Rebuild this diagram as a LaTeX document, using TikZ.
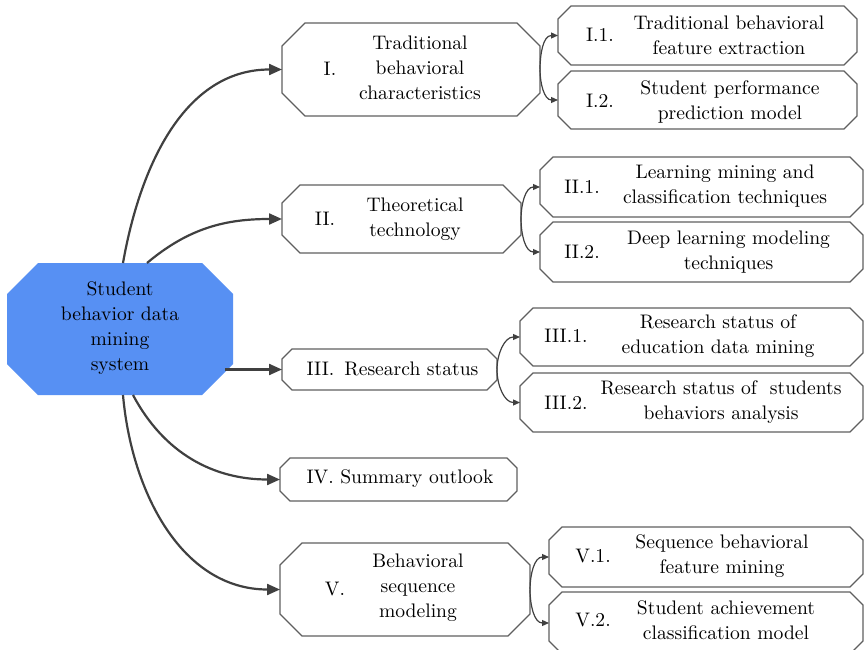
\documentclass[tikz,border=0pt]{standalone}
\usepackage{fontspec}
\setmainfont{lmroman10-regular.otf}
\usetikzlibrary{arrows.meta}
\definecolor{mainblue}{RGB}{87,144,243}
\definecolor{boxline}{RGB}{95,95,95}
\definecolor{conn}{RGB}{64,64,64}
\begin{document}
\begin{tikzpicture}[x=1pt,y=-1pt,
  box/.style={rectangle, draw=none, inner sep=0pt, outer sep=0pt},
  octline/.style={draw=boxline, line width=1.3pt, line join=miter},
  txt/.style={align=center, inner sep=0pt, font=\fontsize{19.6}{25}\selectfont},
  mainarr/.style={draw=conn, line width=2.2pt, -{Triangle[length=13pt,width=11pt]}},
  forkarr/.style={draw=conn, line width=1.2pt, -{Triangle[length=7pt,width=6pt]}}]
\useasboundingbox (0,0) rectangle (864,650);

% box frames (named rectangles; octagonal outlines drawn below)
\node[box, minimum width=226pt, minimum height=132pt] (M) at (120,329) {};
\node[box, minimum width=258pt, minimum height=93pt] (I) at (411,69.5) {};
\node[box, minimum width=239pt, minimum height=68pt] (II) at (401.5,219) {};
\node[box, minimum width=215pt, minimum height=41pt] (III) at (389.5,369.5) {};
\node[box, minimum width=237pt, minimum height=43pt] (IV) at (398.5,479.5) {};
\node[box, minimum width=250pt, minimum height=93pt] (V) at (405,589.5) {};
\node[box, minimum width=299pt, minimum height=59pt] (I1) at (707.5,35.5) {};
\node[box, minimum width=299pt, minimum height=58pt] (I2) at (707.5,100) {};
\node[box, minimum width=323pt, minimum height=60pt] (II1) at (701.5,187) {};
\node[box, minimum width=323pt, minimum height=60pt] (II2) at (701.5,252) {};
\node[box, minimum width=343pt, minimum height=58pt] (III1) at (691.5,337) {};
\node[box, minimum width=343pt, minimum height=59pt] (III2) at (691.5,402.5) {};
\node[box, minimum width=314pt, minimum height=60pt] (V1) at (706,557) {};
\node[box, minimum width=314pt, minimum height=62pt] (V2) at (706,623) {};

% central octagon (filled)
\fill[mainblue] ([xshift=31pt]M.north west) -- ([xshift=-31pt]M.north east) -- ([yshift=-31pt]M.north east) -- ([yshift=31pt]M.south east) -- ([xshift=-31pt]M.south east) -- ([xshift=31pt]M.south west) -- ([yshift=31pt]M.south west) -- ([yshift=-31pt]M.north west) -- cycle;

% outlined octagons
\foreach \n/\c in {I/23,II/18,III/10,IV/10,V/22,I1/13,I2/13,II1/13,II2/13,III1/13,III2/13,V1/13,V2/13}{
  \draw[octline] ([xshift=\c pt]\n.north west) -- ([xshift=-\c pt]\n.north east) -- ([yshift=-\c pt]\n.north east) -- ([yshift=\c pt]\n.south east) -- ([xshift=-\c pt]\n.south east) -- ([xshift=\c pt]\n.south west) -- ([yshift=\c pt]\n.south west) -- ([yshift=-\c pt]\n.north west) -- cycle;
}

% texts
\node[txt] (Mt) at (120,328.5) {Student\\behavior data\\mining\\system};
\node[txt] (Inum) at (330,69) {I.};
\node[txt] (Itxt) at (420,68) {Traditional\\behavioral\\characteristics};
\node[txt] (IInum) at (325,219) {II.};
\node[txt] (IItxt) at (415,219.5) {Theoretical\\technology};
\node[txt] (IIItxt) at (392.5,369) {III.\hspace{10pt}Research status};
\node[txt] (IVtxt) at (400,479) {IV.\hspace{6.5pt}Summary outlook};
\node[txt] (Vnum) at (335,589) {V.};
\node[txt] (Vtxt) at (418,588) {Behavioral\\sequence\\modeling};
\node[txt] (I1num) at (600,35) {I.1.};
\node[txt] (I1txt) at (729,35.5) {Traditional behavioral\\feature extraction};
\node[txt] (I2num) at (600,101) {I.2.};
\node[txt] (I2txt) at (730,101.5) {Student performance\\prediction model};
\node[txt] (II1num) at (582,187) {II.1.};
\node[txt] (II1txt) at (725,186) {Learning mining and\\classification techniques};
\node[txt] (II2num) at (582,252) {II.2.};
\node[txt] (II2txt) at (728.5,252) {Deep learning modeling\\techniques};
\node[txt] (III1num) at (566,336) {III.1.};
\node[txt] (III1txt) at (718,336.5) {Research status of\\education data mining};
\node[txt] (III2num) at (566,403) {III.2.};
\node[txt] (III2txt) at (721,402) {Research status of\ \ students\\behaviors analysis};
\node[txt] (V1num) at (593,556) {V.1.};
\node[txt] (V1txt) at (722,556.5) {Sequence behavioral\\feature mining};
\node[txt] (V2num) at (593,620) {V.2.};
\node[txt] (V2txt) at (726,620.5) {Student achievement\\classification model};

% main connectors
\draw[mainarr] ([xshift=3pt]M.north) to[out=80,in=180] (I.west);
\draw[mainarr] ([xshift=27pt]M.north) to[out=40,in=180] (II.west);
\draw[mainarr] ([xshift=-8pt]M.east |- III.west) -- (III.west);
\draw[mainarr] ([xshift=13pt]M.south) to[out=-62,in=180] (IV.west);
\draw[mainarr] ([xshift=3pt]M.south) to[out=-85,in=180] (V.west);

% fork connectors
\draw[forkarr] (I.east) to[out=90,in=180] (I1.west);
\draw[forkarr] (I.east) to[out=-90,in=180] (I2.west);
\draw[forkarr] (II.east) to[out=90,in=180] (II1.west);
\draw[forkarr] (II.east) to[out=-90,in=180] (II2.west);
\draw[forkarr] (III.east) to[out=90,in=180] (III1.west);
\draw[forkarr] (III.east) to[out=-90,in=180] (III2.west);
\draw[forkarr] (V.east) to[out=90,in=180] (V1.west);
\draw[forkarr] (V.east) to[out=-90,in=180] (V2.west);
\end{tikzpicture}
\end{document}
